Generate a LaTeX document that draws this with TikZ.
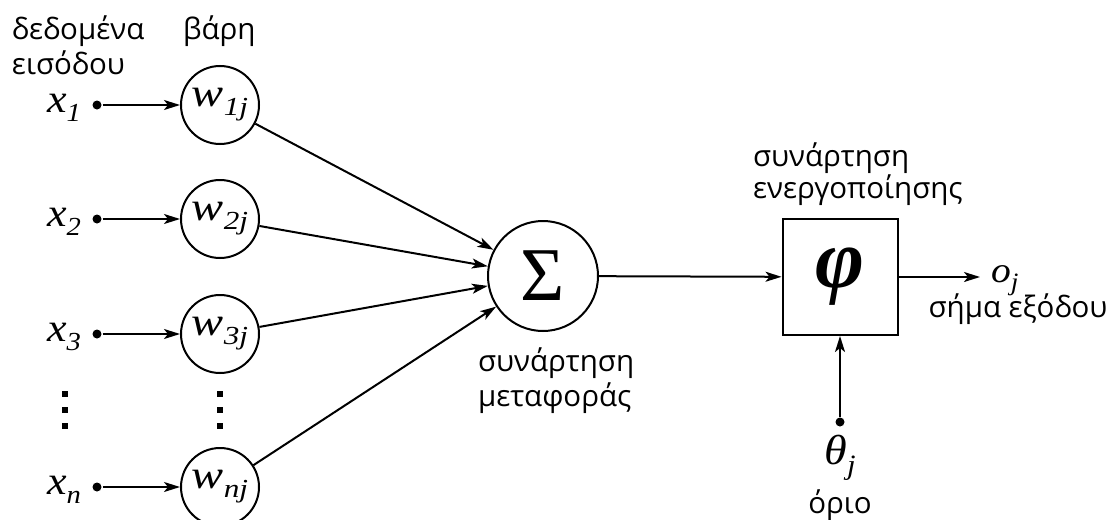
\RequirePackage{fix-cm}
\documentclass[tikz,border=0pt]{standalone}
\usepackage{graphicx}
\usepackage{fontspec}
\setmainfont{Liberation Serif}
\newfontfamily\gr{Open Sans}
\usetikzlibrary{arrows.meta}
% italic variable with a lowered italic subscript: #1 base, #2 sub, #3 sub size, #4 drop, #5 horizontal stretch
\newcommand\vsub[5]{\scalebox{#5}[1]{\textit{#1}\lower#4\hbox{\fontsize{#3}{#3}\selectfont\itshape #2}}}
\begin{document}
\begin{tikzpicture}[x=1pt,y=-1pt, line width=2pt,
  wnode/.style={circle,draw,minimum size=78pt,inner sep=0pt,font=\fontsize{40}{40}\selectfont},
  lbl/.style={font=\gr\fontsize{29.5}{35}\selectfont,inner sep=0pt,align=left},
  mathlbl/.style={font=\fontsize{40}{40}\selectfont,inner sep=0pt},
  arr/.style={-{Stealth[length=16pt,width=10pt,inset=4pt]}},
  dotc/.style={circle,fill,inner sep=0pt,minimum size=9pt},
  vdot/.style={fill,inner sep=0pt,minimum size=5.5pt}]
\useasboundingbox (0,0) rectangle (1110,519);

% labels at top
\node[lbl,anchor=north west] (lin) at (11,15) {δεδομένα\\εισόδου};
\node[lbl,anchor=north west] (lw) at (182,15) {βάρη};

% inputs
\foreach \i/\y/\s in {1/105/1,2/219/2,3/334/3,n/487/n}{
  \node[dotc] (d\i) at (97,\y) {};
  \node[mathlbl,anchor=base east] (x\i) at (82,\y+7) {\vsub{x}{\s}{26}{9pt}{1.1}};
  \node[wnode] (w\i) at (220,\y) {\raisebox{-2pt}{\vsub{w}{\s j}{26}{9pt}{1.2}}};
  \draw[arr] (d\i) -- (w\i);
}

% vertical ellipses
\foreach \xx/\nm in {65/a,220/b}{
  \foreach \yy/\k in {394/1,410/2,426/3}{
    \node[vdot] (e\nm\k) at (\xx,\yy) {};
  }
}

% sum
\node[circle,draw,minimum size=110pt,inner sep=0pt,font=\fontsize{76}{76}\selectfont] (sum) at (543,276) {Σ};
\foreach \i in {1,2,3,n}{
  \draw[arr] (w\i) -- (sum);
}
\node[lbl,anchor=north west] (ltr) at (477,347) {συνάρτηση\\μεταφοράς};

% activation
\node[draw,minimum width=115pt,minimum height=116pt,inner sep=0pt,font=\fontsize{84}{84}\selectfont\bfseries\itshape] (phi) at (840,277) {φ};
\draw[arr] (sum) -- (phi);
\node[lbl,font=\gr\fontsize{29.5}{27.5}\selectfont,anchor=north west] (lact) at (752,142) {συνάρτηση\\ενεργοποίησης};

% output
\coordinate (out) at (980,277);
\draw[arr] (phi) -- (out);
\node[mathlbl,font=\fontsize{36}{36}\selectfont,anchor=base west] (oj) at (990,282) {\vsub{o}{j}{25}{8pt}{1.1}};
\node[lbl] (lout) at (1018,309) {σήμα εξόδου};

% threshold
\node[dotc] (dt) at (840,422) {};
\draw[arr] (dt) -- (phi);
\node[mathlbl,font=\fontsize{42}{42}\selectfont,anchor=base] (th) at (840,464) {\vsub{θ}{j}{28}{10pt}{1.1}};
\node[lbl] (lth) at (840,505) {όριο};
\end{tikzpicture}
\end{document}
